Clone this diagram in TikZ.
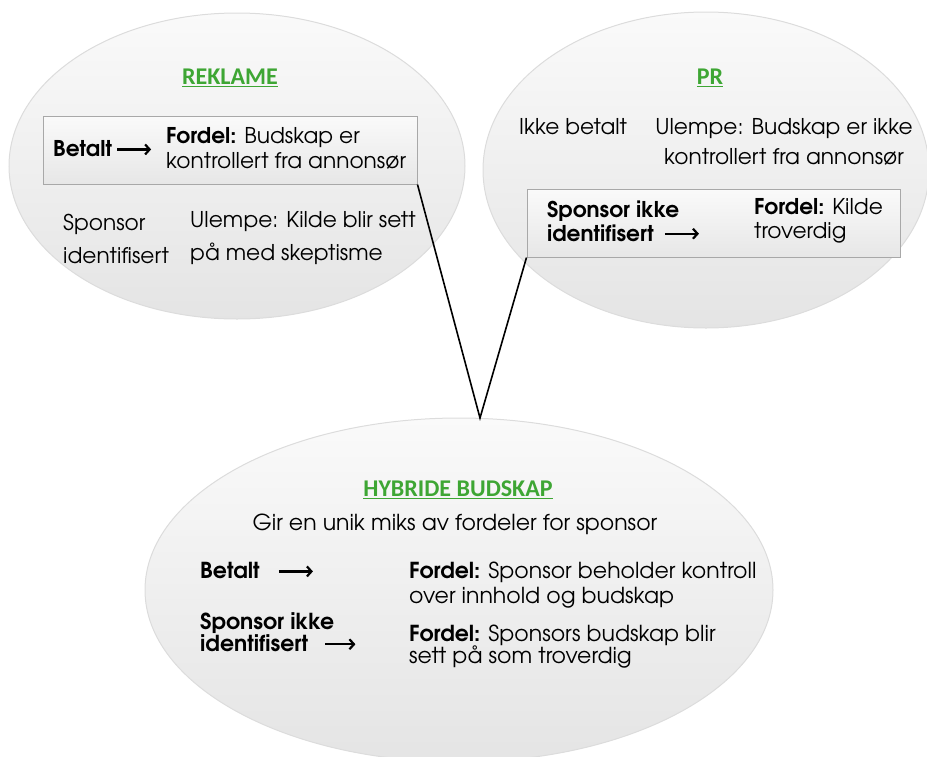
\documentclass[tikz,border=0pt]{standalone}
\usepackage{fontspec}
\setmainfont{texgyreadventor}[Extension=.otf, UprightFont=*-regular, BoldFont=*-bold, ItalicFont=*-italic, BoldItalicFont=*-bolditalic]
\newfontfamily\headfont{Carlito}
\usetikzlibrary{shapes.geometric,arrows.meta}
\definecolor{headgreen}{RGB}{62,166,52}
\definecolor{blobedge}{RGB}{220,220,220}
\definecolor{boxedge}{RGB}{168,168,168}
\newcommand{\harrow}[1][34]{\tikz[baseline=-0.62ex]\draw[line width=2.2pt,-{Straight Barb[length=4.5pt,width=10pt]}] (0pt,0pt) -- (#1pt,0pt);}
\tikzset{
  blob/.style={ellipse, draw=blobedge, line width=1pt, top color=gray!4, bottom color=gray!21, inner sep=0pt},
  pbox/.style={rectangle, draw=boxedge, line width=1pt, top color=gray!4, bottom color=gray!19, inner sep=0pt},
  head/.style={font=\headfont\bfseries\fontsize{24}{28}\selectfont, text=headgreen, inner sep=0pt},
  txt/.style={font=\fontsize{21.7}{33}\selectfont, inner sep=0pt, align=left},
  link/.style={draw=black, line width=1.6pt}
}
\begin{document}
\begin{tikzpicture}[x=1pt,y=-1pt]
\useasboundingbox (0,0) rectangle (927,756);
% ellipses
\node[blob, minimum width=456, minimum height=306] (rek) at (237,166) {};
\node[blob, minimum width=446, minimum height=316] (pr) at (706,170) {};
\node[blob, minimum width=628, minimum height=344] (hyb) at (459,590) {};
% boxes
\node[pbox, minimum width=374, minimum height=68] (lbox) at (230,150) {};
\node[pbox, minimum width=373, minimum height=68] (rbox) at (713.5,223) {};
% connectors
\coordinate (apex) at (480,418);
\draw[link] (lbox.south east) -- (apex) -- (rbox.south west);
% REKLAME
\node[head] (rekh) at (230,78) {\underline{REKLAME}};
\node[txt, anchor=west, font=\bfseries\fontsize{21.7}{25}\selectfont] (rbet) at (53,149) {Betalt\hspace{4pt}\harrow};
\node[txt, anchor=west, font=\fontsize{21.7}{25}\selectfont] (rford) at (166,148.5) {\textbf{Fordel:} Budskap er\\kontrollert fra annonsør};
\node[txt, anchor=west] (rspon) at (63,238.5) {Sponsor\\identifisert};
\node[txt, anchor=west] (rulem) at (190,238.5) {Ulempe: Kilde blir sett\\på med skeptisme};
% PR
\node[head] (prh) at (710,78) {\underline{PR}};
\node[txt, anchor=west] (pikke) at (519,127) {Ikke betalt};
\node[txt, align=center, font=\fontsize{21.7}{30}\selectfont] (pulem) at (784,142) {Ulempe: Budskap er ikke\\kontrollert fra annonsør};
\node[txt, anchor=west, font=\bfseries\fontsize{21.7}{24}\selectfont] (pspon) at (547,221) {Sponsor ikke\\identifisert\hspace{10pt}\harrow};
\node[txt, anchor=west, font=\fontsize{21.7}{24}\selectfont] (pford) at (754,221) {\textbf{Fordel:} Kilde\\troverdig};
% HYBRIDE
\node[head] (hybh) at (458,490) {\underline{HYBRIDE BUDSKAP}};
\node[txt, font=\fontsize{22}{24}\selectfont] (hgir) at (455,524) {Gir en unik miks av fordeler for sponsor};
\node[txt, anchor=west, font=\bfseries\fontsize{22}{23}\selectfont] (hbet) at (200,571) {Betalt\hspace{18pt}\harrow};
\node[txt, anchor=west, font=\bfseries\fontsize{22}{22}\selectfont] (hspon) at (200,632.5) {Sponsor ikke\\identifisert\hspace{16pt}\harrow[30]};
\node[txt, anchor=west, font=\fontsize{22}{25}\selectfont] (hf1) at (409,585.5) {\textbf{Fordel:} Sponsor beholder kontroll\\over innhold og budskap};
\node[txt, anchor=west, font=\fontsize{22}{22}\selectfont] (hf2) at (409,647) {\textbf{Fordel:} Sponsors budskap blir\\sett på som troverdig};
\end{tikzpicture}
\end{document}
